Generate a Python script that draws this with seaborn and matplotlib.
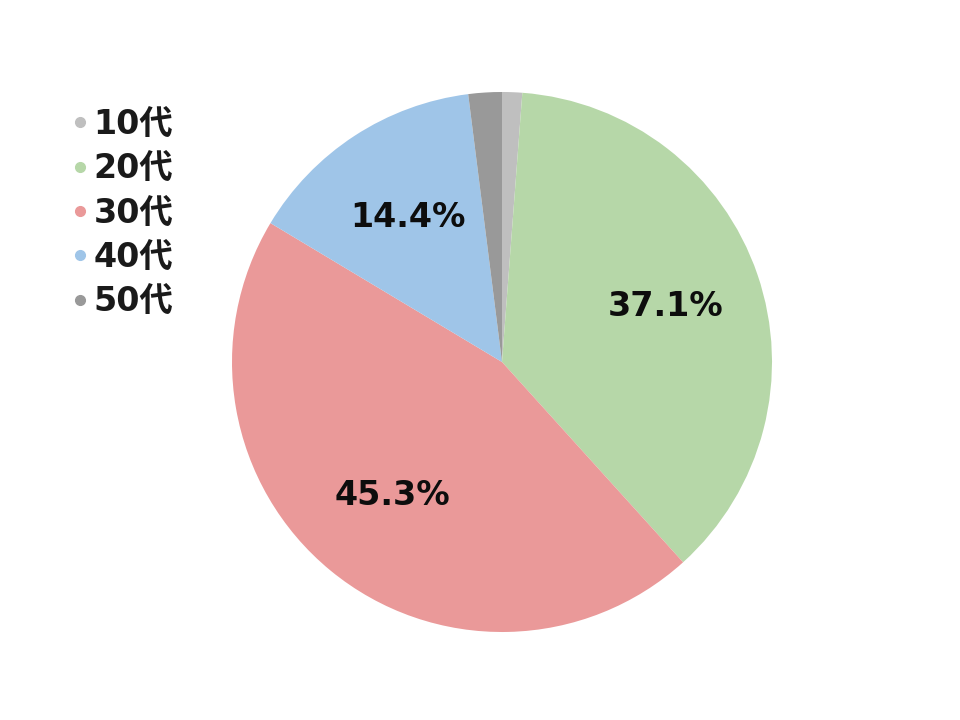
#!/usr/bin/env python3
import matplotlib
matplotlib.use('Agg')
import matplotlib.pyplot as plt
from matplotlib.lines import Line2D
import seaborn as sns

# Data
ages = ['10代', '20代', '30代', '40代', '50代']
shares = [1.2, 37.1, 45.3, 14.4, 2.0]
colors = ['#bfbfbf', '#b6d7a8', '#ea9999', '#9fc5e8', '#999999']

sns.set_theme(style='white')
plt.rcParams['font.family'] = ['DejaVu Sans', 'Noto Sans CJK JP']
palette = sns.color_palette(colors)

fig = plt.figure(figsize=(9.6, 7.2), dpi=100)
ax = fig.add_axes([232 / 960, 88 / 720, 540 / 960, 540 / 720])


def pct_label(p):
    # only the larger slices get a label
    return f'{p:.1f}%' if p > 5 else ''


wedges, texts, autotexts = ax.pie(shares, colors=palette, startangle=90,
                                  counterclock=False, autopct=pct_label,
                                  pctdistance=0.64, radius=1.0,
                                  wedgeprops={'linewidth': 0},
                                  textprops={'fontsize': 24, 'fontweight': 'heavy',
                                             'color': '#0d0d0d'})
ax.set_xlim(-1, 1)
ax.set_ylim(-1, 1)

#Legend with small circle markers
handles = [Line2D([0], [0], marker='o', linestyle='', markersize=7,
                  markerfacecolor=c, markeredgecolor=c) for c in palette]
fig.legend(handles, ages, loc='upper left', bbox_to_anchor=(42 / 960, 1 - 78 / 720),
           frameon=False, handlelength=0.45, handletextpad=0.2, labelspacing=0.34,
           prop={'size': 24, 'weight': 'bold'}, labelcolor='#1a1a1a')

fig.savefig('out.png', dpi=100)
